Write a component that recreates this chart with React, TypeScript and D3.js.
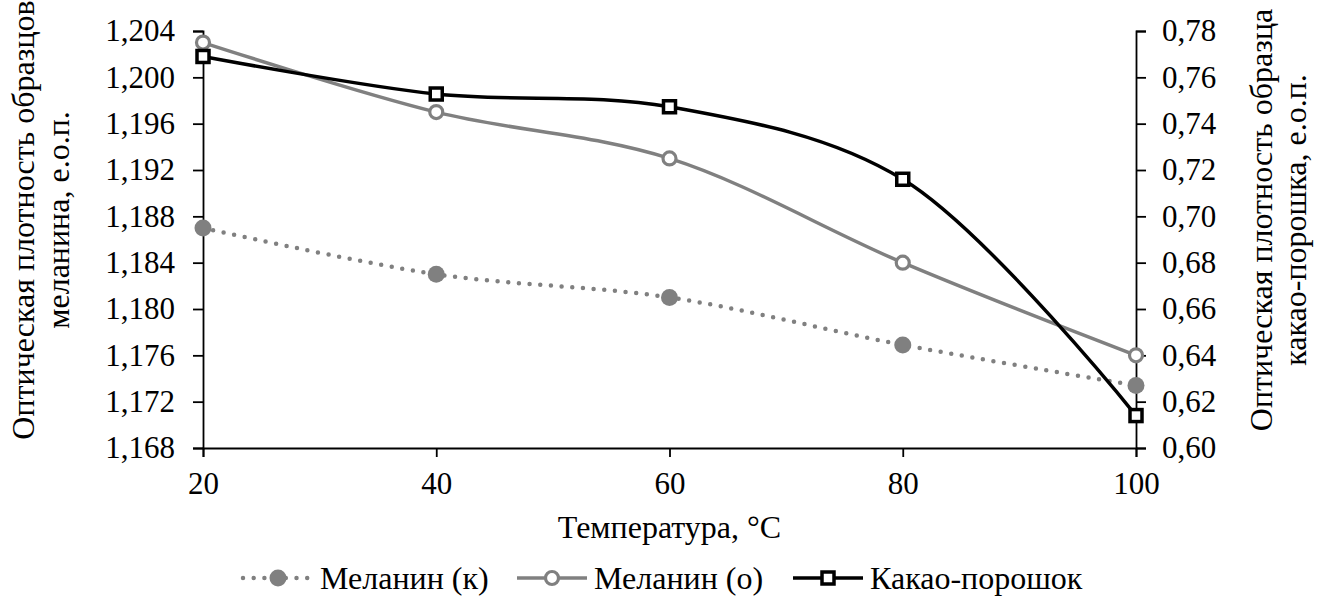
import React, { useEffect, useRef } from "react";
import * as d3 from "d3";

const temps = [20, 40, 60, 80, 100];
const melaninK = [1.187, 1.183, 1.181, 1.1769, 1.1734];
const melaninO = [1.203, 1.197, 1.193, 1.184, 1.176];
const cocoa = [0.769, 0.7528, 0.7473, 0.716, 0.614];

const leftTicks = [1.168, 1.172, 1.176, 1.18, 1.184, 1.188, 1.192, 1.196, 1.2, 1.204];
const rightTicks = [0.6, 0.62, 0.64, 0.66, 0.68, 0.7, 0.72, 0.74, 0.76, 0.78];

const legendNames = ["Меланин (к)", "Меланин (о)", "Какао-порошок"];

const FONT = "'Liberation Serif', 'Times New Roman', serif";
const GREY = "#808080";

const App = () => {
  const svgRef = useRef(null);

  useEffect(() => {
    const svg = d3.select(svgRef.current);
    svg.selectAll("*").remove();

    const left = 203, right = 1136, top = 31, bottom = 448;
    const fs = 31; // tick labels
    const fsT = 32; // titles, legend

    const x = d3.scaleLinear().domain([20, 100]).range([left, right]);
    const yL = d3.scaleLinear().domain([1.168, 1.204]).range([bottom, top]);
    const yR = d3.scaleLinear().domain([0.6, 0.78]).range([bottom, top]);
    const comma = (f) => (d) => d3.format(f)(d).replace(".", ",");

    const axisStyle = (g) => {
      g.selectAll("path").attr("stroke", "#000").attr("stroke-width", 1.8);
      g.selectAll("line").attr("stroke", "#000").attr("stroke-width", 1.8);
      g.selectAll("text").attr("font-family", FONT).attr("font-size", fs).attr("fill", "#000");
    };

    svg.append("g")
      .attr("transform", `translate(${left},0)`)
      .call(d3.axisLeft(yL).tickValues(leftTicks).tickFormat(comma(".3f")).tickSize(10).tickSizeOuter(10).tickPadding(18))
      .call(axisStyle);

    svg.append("g")
      .attr("transform", `translate(${right},0)`)
      .call(d3.axisRight(yR).tickValues(rightTicks).tickFormat(comma(".2f")).tickSize(10).tickSizeOuter(10).tickPadding(16))
      .call(axisStyle);

    svg.append("g")
      .attr("transform", `translate(0,${bottom})`)
      .call(d3.axisBottom(x).tickValues(temps).tickFormat(d3.format("d")).tickSize(9).tickSizeOuter(9).tickPadding(15))
      .call(axisStyle);

    svg.selectAll(".domain").attr("fill", "none");

    const curve = d3.curveCatmullRom.alpha(0.5);

    // Меланин (к)
    const lineK = d3.line().x((d, i) => x(temps[i])).y((d) => yL(d)).curve(curve);
    svg.append("path").datum(melaninK).attr("d", lineK)
      .attr("fill", "none").attr("stroke", GREY).attr("stroke-width", 4.5)
      .attr("stroke-linecap", "round").attr("stroke-dasharray", "0 10.7");
    svg.selectAll(".ptK").data(melaninK).enter().append("circle")
      .attr("cx", (d, i) => x(temps[i])).attr("cy", (d) => yL(d)).attr("r", 8.5).attr("fill", GREY);

    // Меланин (о)
    const lineO = d3.line().x((d, i) => x(temps[i])).y((d) => yL(d)).curve(curve);
    svg.append("path").datum(melaninO).attr("d", lineO)
      .attr("fill", "none").attr("stroke", GREY).attr("stroke-width", 3.5);
    svg.selectAll(".ptO").data(melaninO).enter().append("circle")
      .attr("cx", (d, i) => x(temps[i])).attr("cy", (d) => yL(d)).attr("r", 6.5)
      .attr("fill", "#fff").attr("stroke", GREY).attr("stroke-width", 3.2);

    // Какао-порошок
    const lineC = d3.line().x((d, i) => x(temps[i])).y((d) => yR(d)).curve(curve);
    svg.append("path").datum(cocoa).attr("d", lineC)
      .attr("fill", "none").attr("stroke", "#000").attr("stroke-width", 3.5);
    svg.selectAll(".ptC").data(cocoa).enter().append("rect")
      .attr("x", (d, i) => x(temps[i]) - 6).attr("y", (d) => yR(d) - 6)
      .attr("width", 12).attr("height", 12)
      .attr("fill", "#fff").attr("stroke", "#000").attr("stroke-width", 3.5);

    // axis titles
    const txt = (g) => g.attr("font-family", FONT).attr("font-size", fsT).attr("fill", "#000").attr("text-anchor", "middle");
    svg.append("text").attr("x", (left + right) / 2).attr("y", 538).text("Температура, °С").call(txt);

    const ly = 220;
    svg.append("text").attr("transform", `translate(34,${ly}) rotate(-90)`).text("Оптическая плотность образцов").call(txt);
    svg.append("text").attr("transform", `translate(69,${ly}) rotate(-90)`).text("меланина, е.о.п.").call(txt);
    svg.append("text").attr("transform", `translate(1272,${ly}) rotate(-90)`).text("Оптическая плотность образца").call(txt);
    svg.append("text").attr("transform", `translate(1306,${ly}) rotate(-90)`).text("какао-порошка, е.о.п.").call(txt);

    // legend
    const legY = 578;
    const legX = [243, 517, 793];
    const lg = svg.append("g");
    legX.forEach((lx, i) => {
      const line = lg.append("line").attr("x1", lx).attr("x2", lx + 70).attr("y1", legY).attr("y2", legY);
      const cx = lx + 35;
      if (i === 0) {
        line.attr("stroke", GREY).attr("stroke-width", 4.5).attr("stroke-linecap", "round").attr("stroke-dasharray", "0 10.7");
        lg.append("circle").attr("cx", cx).attr("cy", legY).attr("r", 8.5).attr("fill", GREY);
      } else if (i === 1) {
        line.attr("stroke", GREY).attr("stroke-width", 3.5);
        lg.append("circle").attr("cx", cx).attr("cy", legY).attr("r", 6.5).attr("fill", "#fff").attr("stroke", GREY).attr("stroke-width", 3.2);
      } else {
        line.attr("stroke", "#000").attr("stroke-width", 3.5);
        lg.append("rect").attr("x", cx - 6).attr("y", legY - 6).attr("width", 12).attr("height", 12)
          .attr("fill", "#fff").attr("stroke", "#000").attr("stroke-width", 3.5);
      }
      lg.append("text").attr("x", lx + 77).attr("y", legY + 11).text(legendNames[i])
        .attr("font-family", FONT).attr("font-size", fsT).attr("fill", "#000");
    });
  }, []);

  return (
    <svg
      ref={svgRef}
      width={1323}
      height={597}
      style={{ position: "absolute", left: 0, top: 0, background: "#fff" }}
    ></svg>
  );
};

export default App;
